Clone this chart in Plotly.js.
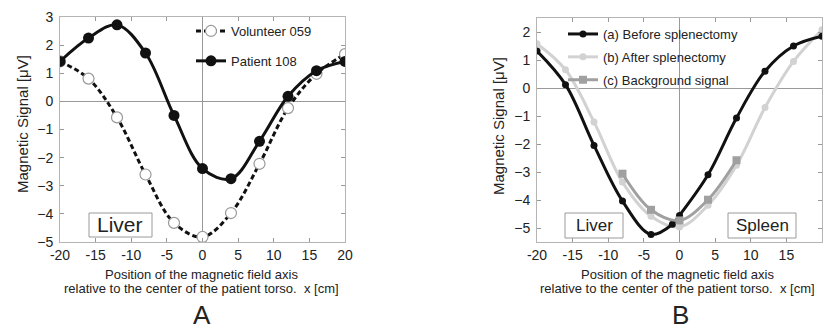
<!DOCTYPE html>
<html>
<head>
<meta charset="utf-8">
<script src="https://cdn.plot.ly/plotly-3.0.1.min.js"></script>
<style>html,body{margin:0;padding:0;background:#fff}#chart{width:824px;height:329px}</style>
</head>
<body>
<div id="chart"></div>
<script>
// ---- Data ----
const posX = [-20, -16, -12, -8, -4, 0, 4, 8, 12, 16, 20];

// Panel A
const volunteer059 = [1.42, 0.81, -0.57, -2.60, -4.32, -4.82, -3.97, -2.22, -0.24, 0.98, 1.68];
const patient108   = [1.42, 2.25, 2.72, 1.72, -0.50, -2.39, -2.75, -1.42, 0.18, 1.09, 1.42];

// Panel B
const beforeX = [-20, -16, -12, -8, -4, -1, 0, 4, 8, 12, 16, 20];
const beforeSplenectomy = [1.32, 0.12, -2.05, -4.04, -5.23, -4.87, -4.55, -3.10, -1.07, 0.60, 1.50, 1.85];
const afterSplenectomy  = [1.58, 0.65, -1.21, -3.36, -4.58, -4.96, -4.19, -2.76, -0.70, 0.95, 2.08];
const backgroundX = [-8, -4, 0, 4, 8];
const backgroundSignal = [-3.06, -4.35, -4.73, -3.99, -2.58];

const xTicks = [-20, -15, -10, -5, 0, 5, 10, 15, 20];

// ---- Styling ----
const FONT = 'Liberation Sans, Arial, Helvetica, sans-serif';
const TXT = '#222';
const W = 824, H = 329;
const px = v => v / W;
const py = v => (H - v) / H;

const traces = [
  {
    x: posX, y: volunteer059, name: 'Volunteer 059', xaxis: 'x', yaxis: 'y',
    mode: 'lines+markers', line: {color: '#111', width: 3, dash: '5px,3px', shape: 'spline'},
    marker: {symbol: 'circle', size: 11, color: '#fff', line: {color: '#999', width: 1.2}},
    legend: 'legend', legendgroup: 'a1'
  },
  {
    x: posX, y: patient108, name: 'Patient 108', xaxis: 'x', yaxis: 'y',
    mode: 'lines+markers', line: {color: '#111', width: 3, shape: 'spline'},
    marker: {symbol: 'circle', size: 11, color: '#111'},
    legend: 'legend', legendgroup: 'a2'
  },
  {
    x: posX, y: afterSplenectomy, name: '(b) After splenectomy', xaxis: 'x2', yaxis: 'y2',
    mode: 'lines+markers', line: {color: '#d2d2d2', width: 3, shape: 'spline'},
    marker: {symbol: 'circle', size: 7, color: '#d2d2d2'},
    legend: 'legend2', legendgroup: 'b2', legendrank: 2
  },
  {
    x: beforeX, y: beforeSplenectomy, name: '(a) Before splenectomy', xaxis: 'x2', yaxis: 'y2',
    mode: 'lines+markers', line: {color: '#111', width: 3, shape: 'spline'},
    marker: {symbol: 'circle', size: 7, color: '#111'},
    legend: 'legend2', legendgroup: 'b1', legendrank: 1
  },
  {
    x: backgroundX, y: backgroundSignal, name: '(c) Background signal', xaxis: 'x2', yaxis: 'y2',
    mode: 'lines+markers', line: {color: '#a0a0a0', width: 3, shape: 'spline'},
    marker: {symbol: 'square', size: 8, color: '#a0a0a0'},
    legend: 'legend2', legendgroup: 'b3', legendrank: 3
  }
];

const xCommon = {
  range: [-20, 20], tickvals: xTicks, ticktext: xTicks.map(String),
  ticks: 'inside', ticklen: 4, tickcolor: '#999', showline: true, linecolor: '#b5b5b5', linewidth: 1,
  mirror: 'ticks', showgrid: false, zeroline: true, zerolinecolor: '#999', zerolinewidth: 1,
  tickfont: {family: FONT, size: 14, color: TXT}, ticklabelstandoff: 0, fixedrange: true
};
const yCommon = {
  dtick: 1, tick0: 0,
  ticks: 'inside', ticklen: 4, tickcolor: '#999', showline: true, linecolor: '#b5b5b5', linewidth: 1,
  mirror: 'ticks', showgrid: false, zeroline: true, zerolinecolor: '#999', zerolinewidth: 1,
  tickfont: {family: FONT, size: 14, color: TXT}, ticklabelstandoff: 3, fixedrange: true
};

const boxLine = {color: '#9a9a9a', width: 1};
const titleLine1 = 'Position of the magnetic field axis';
const titleLine2 = 'relative to the center of the patient torso.  x [cm]';
const note = (text, x, y, size, extra) => Object.assign({
  text: text, xref: 'paper', yref: 'paper', x: px(x), y: py(y),
  xanchor: 'center', yanchor: 'middle', showarrow: false, font: {size: size, color: TXT}
}, extra || {});

const layout = {
  width: W, height: H, margin: {l: 0, r: 0, t: 0, b: 0},
  paper_bgcolor: '#fff', plot_bgcolor: '#fff',
  font: {family: FONT, color: TXT},
  showlegend: true,
  xaxis: Object.assign({}, xCommon, {domain: [px(60), px(345)], anchor: 'y'}),
  yaxis: Object.assign({}, yCommon, {domain: [py(242), py(17)], range: [-5, 3], anchor: 'x'}),
  xaxis2: Object.assign({}, xCommon, {domain: [px(537), px(822)], anchor: 'y2'}),
  yaxis2: Object.assign({}, yCommon, {domain: [py(242), py(18)], range: [-5.5, 2.5], anchor: 'x2'}),
  legend: {
    x: px(191), y: py(16), xanchor: 'left', yanchor: 'top', bgcolor: 'rgba(0,0,0,0)',
    font: {family: FONT, size: 13, color: TXT}, traceorder: 'grouped', tracegroupgap: 10
  },
  legend2: {
    x: px(563), y: py(19), xanchor: 'left', yanchor: 'top', bgcolor: 'rgba(0,0,0,0)',
    font: {family: FONT, size: 13, color: TXT}, traceorder: 'grouped', tracegroupgap: 3
  },
  shapes: [
    {type: 'rect', xref: 'paper', yref: 'paper', x0: px(89), x1: px(152), y0: py(237), y1: py(213), line: boxLine, fillcolor: '#fff', layer: 'above'},
    {type: 'rect', xref: 'paper', yref: 'paper', x0: px(565), x1: px(623), y0: py(238), y1: py(213), line: boxLine, fillcolor: '#fff', layer: 'above'},
    {type: 'rect', xref: 'paper', yref: 'paper', x0: px(728), x1: px(796), y0: py(238), y1: py(213), line: boxLine, fillcolor: '#fff', layer: 'above'}
  ],
  annotations: [
    note('Liver', 120.5, 225, 21),
    note('Liver', 594, 225.5, 17),
    note('Spleen', 762, 225.5, 17),
    note('Magnetic Signal [μV]', 22, 124, 15, {textangle: -90}),
    note('Magnetic Signal [μV]', 498, 126, 15, {textangle: -90}),
    note(titleLine1, 201, 274, 13),
    note(titleLine2, 201, 288.5, 13),
    note(titleLine1, 677, 274, 13),
    note(titleLine2, 677, 288.5, 13),
    note('A', 202, 315, 26),
    note('B', 680, 315, 26)
  ]
};

Plotly.newPlot('chart', traces, layout, {staticPlot: true, displayModeBar: false});
</script>
</body>
</html>
